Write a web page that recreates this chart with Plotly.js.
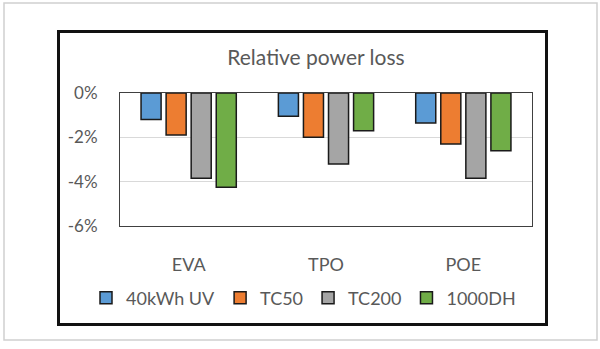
<!DOCTYPE html>
<html>
<head>
<meta charset="utf-8">
<script src="https://cdn.plot.ly/plotly-3.0.1.min.js"></script>
<style>html,body{margin:0;padding:0;background:#fff;}#chart{width:600px;height:349px;}</style>
</head>
<body>
<div id="chart"></div>
<script>
const categories = ['EVA', 'TPO', 'POE'];
const seriesNames = ['40kWh UV', 'TC50', 'TC200', '1000DH'];
const uv40 = [-1.2, -1.05, -1.35];
const tc50 = [-1.9, -2.0, -2.3];
const tc200 = [-3.85, -3.2, -3.85];
const dh1000 = [-4.25, -1.7, -2.6];
const tickVals = [0, -2, -4, -6];
const tickText = ['0%', '-2%', '-4%', '-6%'];
const colors = ['#5B9BD5', '#ED7D31', '#A5A5A5', '#70AD47'];

const seriesValues = [uv40, tc50, tc200, dh1000];
const traces = seriesValues.map((vals, i) => ({
  type: 'bar',
  name: seriesNames[i],
  x: categories,
  y: vals,
  marker: {color: colors[i], line: {color: '#1a1a1a', width: 1.5}},
  hoverinfo: 'skip'
}));

// plot area in pixels: x 120..532, y 93..226
const L = 120, R = 532, T = 93, B = 226;
const px = v => (v - L) / (R - L);
const py = v => (B - v) / (B - T);

const layout = {
  width: 600, height: 349,
  margin: {l: L, r: 600 - R, t: T, b: 349 - B, pad: 0},
  paper_bgcolor: '#ffffff',
  plot_bgcolor: '#ffffff',
  font: {family: 'Lato, "Open Sans", sans-serif', color: '#595959', size: 17},
  title: {
    text: 'Relative power loss',
    font: {family: 'Lato, sans-serif', size: 21, color: '#595959'},
    xref: 'container', yref: 'container',
    x: 316 / 600, xanchor: 'center',
    y: 1 - 58 / 349, yanchor: 'middle'
  },
  barmode: 'group',
  bargap: 0.27,
  bargroupgap: 0.2,
  showlegend: true,
  legend: {
    orientation: 'h',
    x: px(86), xanchor: 'left',
    y: py(298), yanchor: 'middle',
    font: {family: 'Lato, sans-serif', size: 18, color: '#595959'},
    traceorder: 'normal',
    bgcolor: 'rgba(0,0,0,0)'
  },
  xaxis: {
    type: 'category',
    showline: true, mirror: true, linecolor: '#404040', linewidth: 1,
    showgrid: false, zeroline: false,
    ticks: '',
    ticklabelstandoff: 22,
    tickfont: {family: 'Lato, sans-serif', size: 18, color: '#595959'},
    fixedrange: true
  },
  yaxis: {
    range: [-6, 0],
    tickvals: tickVals,
    ticktext: tickText,
    showline: true, mirror: true, linecolor: '#404040', linewidth: 1,
    showgrid: true, gridcolor: '#D9D9D9', gridwidth: 1,
    zeroline: false,
    ticks: '',
    ticklabelstandoff: 18,
    tickfont: {family: 'Lato, sans-serif', size: 17, color: '#595959'},
    fixedrange: true
  },
  shapes: [
    {type: 'rect', xref: 'paper', yref: 'paper', x0: px(4), x1: px(597), y0: py(340), y1: py(3),
     line: {color: '#D0D0D0', width: 1.5}, fillcolor: 'rgba(0,0,0,0)', layer: 'below'},
    {type: 'rect', xref: 'paper', yref: 'paper', x0: px(58.5), x1: px(546.5), y0: py(324.5), y1: py(31.5),
     line: {color: '#111111', width: 3}, fillcolor: 'rgba(0,0,0,0)', layer: 'below'}
  ]
};

Plotly.newPlot('chart', traces, layout, {displayModeBar: false, staticPlot: true});
</script>
</body>
</html>
